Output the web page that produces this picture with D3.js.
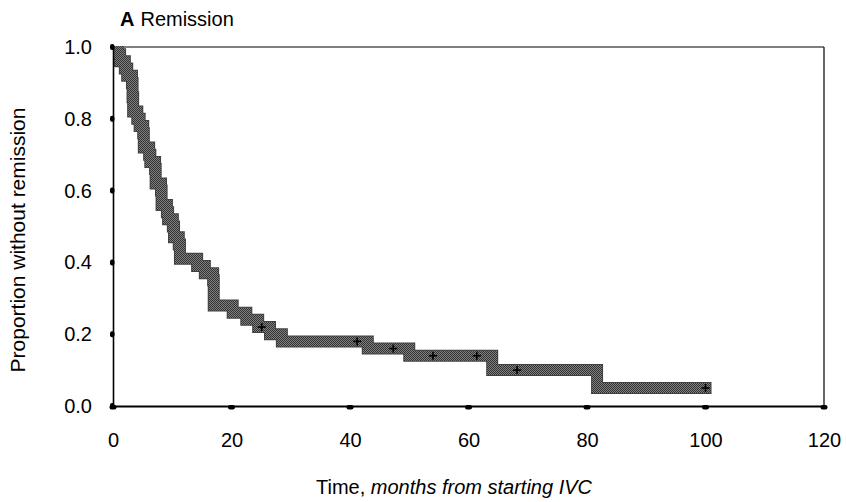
<!DOCTYPE html>
<html><head><meta charset="utf-8">
<script src="https://cdn.jsdelivr.net/npm/d3@7"></script>
<style>body{margin:0;background:#fff}svg{display:block}text{font-family:"Liberation Sans",Arial,sans-serif;fill:#000}</style>
</head><body><svg id="c" width="846" height="502"></svg>
<script>
// Kaplan-Meier step data: event times (months) and survival after each step
const eventTimes = [0, 0.8, 1.2, 2.0, 2.4, 3.2, 3.3, 3.4, 4.1, 4.5, 5.1, 5.2, 6.1, 6.3, 7.1, 7.2, 8.1, 8.2, 9.1, 9.3, 10.1, 10.3, 11.1, 11.3, 14.2, 15.5, 16.9, 17.0, 20.2, 22.5, 24.5, 26.5, 28.5, 43.0, 50.0, 64.0, 81.7];
const survival   = [1.0, 0.98, 0.96, 0.94, 0.92, 0.90, 0.86, 0.82, 0.80, 0.78, 0.76, 0.72, 0.70, 0.68, 0.66, 0.62, 0.60, 0.56, 0.54, 0.52, 0.50, 0.47, 0.45, 0.41, 0.39, 0.37, 0.35, 0.28, 0.26, 0.24, 0.22, 0.20, 0.18, 0.16, 0.14, 0.10, 0.05];
const followUpEnd = 100;
const censorTimes = [25.1, 41.2, 47.3, 54.0, 61.4, 68.2, 100];
const xTicks = [0, 20, 40, 60, 80, 100, 120];
const yTicks = [0.0, 0.2, 0.4, 0.6, 0.8, 1.0];
const titleLetter = "A", titleText = "Remission";
const yTitle = "Proportion without remission";

const svg = d3.select("#c");
const L = 113, R = 824, T = 47, B = 406;
const x = d3.scaleLinear().domain([0, 120]).range([L, R]);
const y = d3.scaleLinear().domain([0, 1]).range([B, T]);

const defs = svg.append("defs");
const pat = defs.append("pattern").attr("id","ht").attr("patternUnits","userSpaceOnUse").attr("width",2).attr("height",2);
pat.append("rect").attr("width",2).attr("height",2).attr("fill","#808080");
pat.append("rect").attr("width",1).attr("height",1).attr("fill","#333");
pat.append("rect").attr("x",1).attr("y",1).attr("width",1).attr("height",1).attr("fill","#333");
defs.append("clipPath").attr("id","clip").append("rect").attr("x",L).attr("y",T-1).attr("width",R-L).attr("height",B-T);

// frame (thin top/right)
svg.append("line").attr("x1",L).attr("x2",R).attr("y1",T).attr("y2",T).attr("stroke","#000").attr("stroke-width",1.2);
svg.append("line").attr("x1",R).attr("x2",R).attr("y1",T).attr("y2",B).attr("stroke","#000").attr("stroke-width",1.2);

// curve
const pts = eventTimes.map((t,i)=>[t, survival[i]]);
pts.push([followUpEnd, survival[survival.length-1]]);
const line = d3.line().x(d=>x(d[0])).y(d=>y(d[1])).curve(d3.curveStepAfter);
const g = svg.append("g").attr("clip-path","url(#clip)");
g.append("path").attr("d", line(pts)).attr("fill","none").attr("stroke","#404040").attr("stroke-width",12).attr("stroke-linejoin","miter").attr("stroke-linecap","square");
g.append("path").attr("d", line(pts)).attr("fill","none").attr("stroke","url(#ht)").attr("stroke-width",10).attr("stroke-linejoin","miter").attr("stroke-linecap","square");

// censor marks
function S(t){ let s = 1; for (let i=0;i<eventTimes.length;i++){ if (eventTimes[i] <= t) s = survival[i]; } return s; }
const cm = svg.append("g");
censorTimes.forEach(t=>{
  const cx = x(t), cy = y(S(t));
  cm.append("line").attr("x1",cx-4).attr("x2",cx+4).attr("y1",cy).attr("y2",cy).attr("stroke","#000").attr("stroke-width",1.6);
  cm.append("line").attr("x1",cx).attr("x2",cx).attr("y1",cy-4).attr("y2",cy+4).attr("stroke","#000").attr("stroke-width",1.6);
});

// axes
const xAxis = d3.axisBottom(x).tickValues(xTicks).tickSize(0).tickPadding(27).tickFormat(d3.format("d"));
const xg = svg.append("g").attr("transform",`translate(0,${B})`).call(xAxis);
xg.select(".domain").attr("stroke","#000").attr("stroke-width",2);
xg.selectAll("text").attr("font-size",20).attr("font-family","Liberation Sans, Arial, sans-serif");
const yAxis = d3.axisLeft(y).tickValues(yTicks).tickSize(0).tickPadding(21).tickFormat(d3.format(".1f"));
const yg = svg.append("g").attr("transform",`translate(${L},0)`).call(yAxis);
yg.select(".domain").attr("stroke","#000").attr("stroke-width",1.6);
yg.selectAll("text").attr("font-size",20).attr("font-family","Liberation Sans, Arial, sans-serif");

// tick blobs
xTicks.forEach(v=>svg.append("rect").attr("x",x(v)-3.5).attr("y",B-1).attr("width",7).attr("height",4.5).attr("rx",2).attr("fill","#000"));
yTicks.forEach(v=>svg.append("rect").attr("x",L-3).attr("y",y(v)-3).attr("width",4.5).attr("height",6).attr("rx",2).attr("fill","#000"));

// titles
const t = svg.append("text").attr("x",120).attr("y",26).attr("font-size",20);
t.append("tspan").attr("font-weight","bold").text(titleLetter);
t.append("tspan").attr("dx",6).text(titleText);
const xt = svg.append("text").attr("x",454).attr("y",494).attr("text-anchor","middle").attr("font-size",20);
xt.append("tspan").text("Time, ");
xt.append("tspan").attr("font-style","italic").text("months from starting IVC");
svg.append("text").attr("transform",`translate(25,${240}) rotate(-90)`).attr("text-anchor","middle").attr("font-size",21).text(yTitle);
</script></body></html>
